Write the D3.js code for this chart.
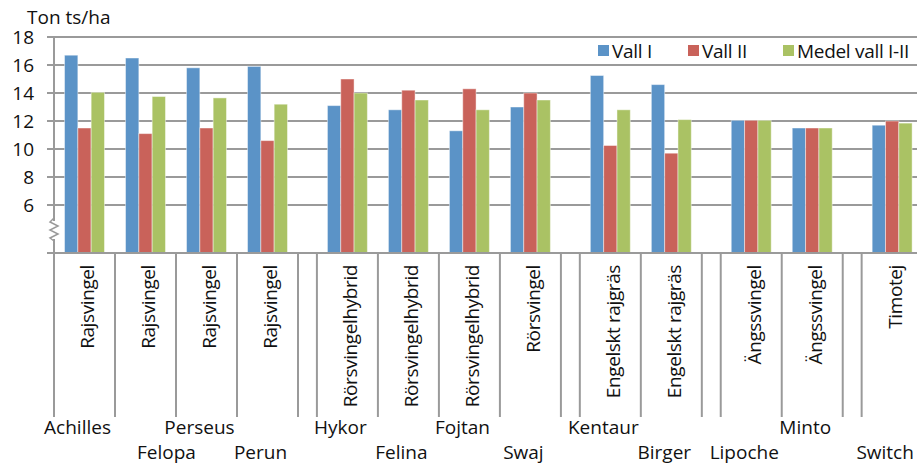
<!DOCTYPE html>
<html>
<head>
<meta charset="utf-8">
<script src="https://cdn.jsdelivr.net/npm/d3@7/dist/d3.min.js"></script>
<style>
  body { margin: 0; background: #fff; }
  text { font-family: "Open Sans", sans-serif; fill: #111; }
</style>
</head>
<body>
<svg id="chart" width="917" height="466"></svg>
<script>
// Data
const cultivars = ["Achilles", "Felopa", "Perseus", "Perun", "Hykor", "Felina", "Fojtan",
    "Swaj", "Kentaur", "Birger", "Lipoche", "Minto", "Switch"];
const species = ["Rajsvingel", "Rajsvingel", "Rajsvingel", "Rajsvingel",
    "Rörsvingelhybrid", "Rörsvingelhybrid", "Rörsvingelhybrid", "Rörsvingel",
    "Engelskt rajgräs", "Engelskt rajgräs", "Ängssvingel", "Ängssvingel", "Timotej"];
const vallI  = [16.7, 16.5, 15.8, 15.9, 13.1, 12.8, 11.3, 13.0, 15.25, 14.6, 12.05, 11.5, 11.7];
const vallII = [11.5, 11.1, 11.5, 10.6, 15.0, 14.2, 14.3, 14.0, 10.25, 9.7, 12.05, 11.5, 12.0];
const medel  = [14.05, 13.75, 13.65, 13.2, 14.0, 13.5, 12.8, 13.5, 12.8, 12.1, 12.05, 11.5, 11.85];
const seriesNames = ["Vall I", "Vall II", "Medel vall I-II"];
const yTicks = [6, 8, 10, 12, 14, 16, 18];
const unitLabel = "Ton ts/ha";

// empty slots between the species blocks
const gapAfter = ["Perun", "Swaj", "Birger", "Minto"];

// layout
const colors = ["#5b93c7", "#c9625a", "#aac264"];
const nameRow = [0, 1, 0, 1, 0, 1, 0, 1, 0, 1, 1, 0, 1];
const nameShift = { Felopa: 28 };
const gapUnits = 0.31;
const left = 54, axisY = 253, tickBottom = 417;

const svg = d3.select("#chart");

// slot positions in "group units"
let pos = 0;
const rows = cultivars.map((c, i) => {
    const d = {
        name: c, species: species[i], start: pos,
        values: [vallI[i], vallII[i], medel[i]]
    };
    pos += 1;
    if (gapAfter.includes(c)) pos += gapUnits;
    return d;
});
const boundaries = [0];
rows.forEach(d => {
    boundaries.push(d.start + 1);
    if (gapAfter.includes(d.name)) boundaries.push(d.start + 1 + gapUnits);
});

const groupW = 61;
const x = d3.scaleLinear().domain([0, 1]).range([left, left + groupW]);
const x1 = d3.scaleBand().domain(seriesNames).range([0, groupW]).paddingOuter(0.79);
const y = d3.scaleLinear().domain([6, 18]).range([205, 37]);
const yBase = y.invert(axisY);

// gridlines
svg.append("g")
    .selectAll("line")
    .data(yTicks)
    .join("line")
    .attr("x1", left - 7).attr("x2", 917)
    .attr("y1", d => y(d)).attr("y2", d => y(d))
    .attr("stroke", "#9a9a9a").attr("stroke-width", 2);

// y tick labels
svg.append("g")
    .selectAll("text")
    .data(yTicks)
    .join("text")
    .attr("x", 34).attr("y", d => y(d))
    .attr("dy", "0.35em")
    .attr("text-anchor", "end")
    .style("font-size", "19px")
    .text(d => d);

svg.append("text")
    .attr("x", 27).attr("y", 24)
    .style("font-size", "19px")
    .text(unitLabel);

// bars
const groups = svg.append("g")
    .selectAll("g")
    .data(rows)
    .join("g")
    .attr("transform", d => `translate(${x(d.start)},0)`);

groups.selectAll("rect")
    .data(d => d.values.map((v, k) => ({ key: seriesNames[k], v: v, k: k })))
    .join("rect")
    .attr("x", d => x1(d.key))
    .attr("width", x1.bandwidth())
    .attr("y", d => y(d.v))
    .attr("height", d => y(yBase) - y(d.v))
    .attr("fill", d => colors[d.k])
    .attr("stroke", "#fff").attr("stroke-opacity", 0.45).attr("stroke-width", 1);

// axes
svg.append("line")
    .attr("x1", left - 7).attr("x2", 917)
    .attr("y1", axisY).attr("y2", axisY)
    .attr("stroke", "#9a9a9a").attr("stroke-width", 2);

svg.append("g")
    .selectAll("line")
    .data(boundaries)
    .join("line")
    .attr("x1", d => x(d)).attr("x2", d => x(d))
    .attr("y1", d => d === 0 ? y(18) : axisY).attr("y2", tickBottom)
    .attr("stroke", "#9a9a9a").attr("stroke-width", 2);

// axis break
svg.append("rect")
    .attr("x", left - 5).attr("y", 221).attr("width", 10).attr("height", 18)
    .attr("fill", "#fff");
svg.append("polyline")
    .attr("points", [[left, 218], [left - 4, 222], [left + 4, 226], [left - 4, 230],
        [left + 4, 234], [left - 4, 238], [left, 241]].join(" "))
    .attr("fill", "none").attr("stroke", "#9a9a9a").attr("stroke-width", 1.5);

// species labels (rotated)
groups.append("text")
    .attr("transform", `translate(${groupW / 2 + 3},265) rotate(-90)`)
    .attr("text-anchor", "end")
    .attr("dy", "0.35em")
    .style("font-size", "19px")
    .style("letter-spacing", "-0.4px")
    .text(d => d.species);

// cultivar names, two staggered rows
groups.append("text")
    .attr("x", d => groupW / 2 - 7 + (nameShift[d.name] || 0))
    .attr("y", (d, i) => nameRow[i] ? 459 : 434)
    .attr("text-anchor", "middle")
    .style("font-size", "19px")
    .text(d => d.name);

// legend
const legX = [598, 688, 783];
const legend = svg.append("g");
legend.append("rect")
    .attr("x", 585).attr("y", 39).attr("width", 332).attr("height", 24)
    .attr("fill", "#fff");
const items = legend.selectAll("g")
    .data(seriesNames)
    .join("g")
    .attr("transform", (d, i) => `translate(${legX[i]},45)`);
items.append("rect")
    .attr("width", 11).attr("height", 11)
    .attr("fill", (d, i) => colors[i]);
items.append("text")
    .attr("x", 14).attr("y", 6)
    .attr("dy", "0.35em")
    .style("font-size", "19px")
    .style("letter-spacing", "-0.3px")
    .text(d => d);
</script>
</body>
</html>
